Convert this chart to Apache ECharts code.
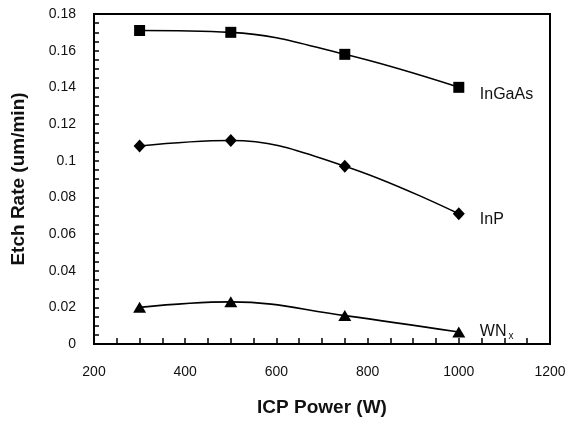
<!DOCTYPE html>
<html>
<head>
<meta charset="utf-8">
<script src="https://cdn.jsdelivr.net/npm/echarts@6/dist/echarts.min.js"></script>
<style>
html,body{margin:0;padding:0;background:#fff;}
#chart{width:567px;height:421px;}
</style>
</head>
<body>
<div id="chart"></div>
<script>
const powers = [300, 500, 750, 1000];
const inGaAs = [0.171, 0.170, 0.158, 0.140];
const inP = [0.108, 0.111, 0.097, 0.071];
const wnx = [0.020, 0.023, 0.0155, 0.0065];
const seriesNames = ['InGaAs', 'InP', 'WN{sub|x}'];
const xTitle = 'ICP Power (W)';
const yTitle = 'Etch Rate (um/min)';

const chart = echarts.init(document.getElementById('chart'));
const font = 'Liberation Sans, Arial, sans-serif';
function mk(name, vals, symbol, size, offY) {
  return {
    type: 'line',
    name: name,
    data: powers.map((p, i) => [p, vals[i]]),
    smooth: 0.4,
    symbol: symbol,
    symbolSize: size,
    showAllSymbol: true,
    lineStyle: {color: '#000', width: 1.6},
    itemStyle: {color: '#000'},
    endLabel: {
      show: true,
      formatter: name,
      distance: 21,
      offset: [0, offY],
      color: '#111',
      fontFamily: font,
      fontSize: 16,
      rich: {sub: {fontSize: 10, fontFamily: font, color: '#111', padding: [9, 0, 0, 2]}}
    },
    animation: false
  };
}
chart.setOption({
  animation: false,
  grid: {left: 94, right: 17, top: 14, bottom: 77, show: true, borderColor: '#000', borderWidth: 2,
    containLabel: false, outerBoundsMode: 'none'},
  xAxis: {
    type: 'value', min: 200, max: 1200, interval: 200,
    name: xTitle, nameLocation: 'middle', nameGap: 54,
    nameTextStyle: {fontFamily: font, fontWeight: 'bold', fontSize: 19, color: '#111'},
    axisLine: {lineStyle: {color: '#000', width: 2}},
    axisTick: {inside: true, length: 6, lineStyle: {color: '#000', width: 1.5}},
    minorTick: {show: true, splitNumber: 4, length: 6, lineStyle: {color: '#000', width: 1.5}},
    axisLabel: {fontFamily: font, fontSize: 14, color: '#111', margin: 21,
      formatter: v => String(v)},
    splitLine: {show: false}
  },
  yAxis: {
    type: 'value', min: 0, max: 0.18, interval: 0.02,
    name: yTitle, nameLocation: 'middle', nameGap: 66,
    nameTextStyle: {fontFamily: font, fontWeight: 'bold', fontSize: 19, color: '#111'},
    axisLine: {show: true, lineStyle: {color: '#000', width: 2}},
    axisTick: {show: true, inside: true, length: 5, lineStyle: {color: '#000', width: 1.5}},
    minorTick: {show: true, splitNumber: 4, length: 5, lineStyle: {color: '#000', width: 1.5}},
    axisLabel: {fontFamily: font, fontSize: 14, color: '#111', margin: 18,
      formatter: v => String(Math.round(v * 100) / 100)},
    splitLine: {show: false}
  },
  series: [
    mk(seriesNames[0], inGaAs, 'rect', 11, 7),
    mk(seriesNames[1], inP, 'diamond', [12, 13], 6),
    mk(seriesNames[2], wnx, 'triangle', [13, 11], 0)
  ]
});
</script>
</body>
</html>
